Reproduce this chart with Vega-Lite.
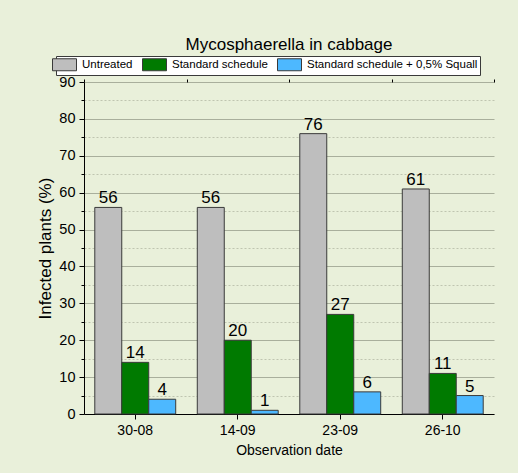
{
  "$schema": "https://vega.github.io/schema/vega-lite/v6.json",
  "width": 410,
  "height": 332,
  "autosize": "none",
  "padding": {"left": 84, "top": 82, "right": 24, "bottom": 59},
  "background": "#E9F0DA",
  "title": {
    "text": "Mycosphaerella in cabbage",
    "fontSize": 17,
    "font": "Liberation Sans",
    "fontWeight": "normal",
    "color": "#000000",
    "anchor": "middle",
    "offset": 2
  },
  "data": {
    "values": [
      {"date": "30-08", "series": "Untreated", "value": 56},
      {"date": "30-08", "series": "Standard schedule", "value": 14},
      {"date": "30-08", "series": "Standard schedule + 0,5% Squall", "value": 4},
      {"date": "14-09", "series": "Untreated", "value": 56},
      {"date": "14-09", "series": "Standard schedule", "value": 20},
      {"date": "14-09", "series": "Standard schedule + 0,5% Squall", "value": 1},
      {"date": "23-09", "series": "Untreated", "value": 76},
      {"date": "23-09", "series": "Standard schedule", "value": 27},
      {"date": "23-09", "series": "Standard schedule + 0,5% Squall", "value": 6},
      {"date": "26-10", "series": "Untreated", "value": 61},
      {"date": "26-10", "series": "Standard schedule", "value": 11},
      {"date": "26-10", "series": "Standard schedule + 0,5% Squall", "value": 5}
    ]
  },
  "layer": [
    {
      "mark": {"type": "bar", "stroke": "#3a3a3a", "strokeWidth": 1},
      "encoding": {
        "x": {
          "field": "date", "type": "nominal",
          "sort": ["30-08", "14-09", "23-09", "26-10"],
          "scale": {"paddingInner": 0, "paddingOuter": 0},
          "axis": {
            "title": "Observation date", "labelAngle": 0,
            "labelFontSize": 14, "titleFontSize": 14, "titleFontWeight": "normal",
            "labelFont": "Liberation Sans", "titleFont": "Liberation Sans",
            "labelColor": "#000", "titleColor": "#000",
            "domainColor": "#000", "tickColor": "#000", "tickSize": 5,
            "labelPadding": 4, "titlePadding": 6
          }
        },
        "xOffset": {
          "field": "series", "type": "nominal",
          "sort": ["Untreated", "Standard schedule", "Standard schedule + 0,5% Squall"],
          "scale": {"paddingInner": 0, "paddingOuter": 0.4}
        },
        "y": {
          "field": "value", "type": "quantitative",
          "scale": {"domain": [0, 90], "nice": false},
          "axis": {
            "title": "Infected plants (%)",
            "values": [0, 10, 20, 30, 40, 50, 60, 70, 80, 90],
            "labelFontSize": 14.5, "titleFontSize": 17, "titleFontWeight": "normal",
            "labelFont": "Liberation Sans", "titleFont": "Liberation Sans",
            "labelColor": "#000", "titleColor": "#000",
            "domainColor": "#000", "tickColor": "#000", "tickSize": 5,
            "labelPadding": 4, "titlePadding": 4,
            "grid": true, "gridColor": "#A9AF9C", "gridWidth": 1
          }
        },
        "color": {
          "field": "series", "type": "nominal",
          "sort": ["Untreated", "Standard schedule", "Standard schedule + 0,5% Squall"],
          "scale": {
            "domain": ["Untreated", "Standard schedule", "Standard schedule + 0,5% Squall"],
            "range": ["#BEBEBE", "#007A00", "#4DB8FF"]
          },
          "legend": {
            "title": null,
            "orient": "none",
            "legendX": -28,
            "legendY": -26,
            "direction": "horizontal",
            "fillColor": "#FFFFFF",
            "strokeColor": "#3a3a3a",
            "padding": 2,
            "symbolType": "M-2,-1H2V1H-2Z",
            "symbolSize": 144,
            "symbolStrokeColor": "#3a3a3a",
            "symbolStrokeWidth": 1,
            "symbolOpacity": 1,
            "labelFontSize": 11.5,
            "labelFont": "Liberation Sans",
            "labelColor": "#000",
            "labelOffset": 11,
            "columnPadding": 7,
            "labelLimit": 300
          }
        }
      }
    },
    {
      "mark": {"type": "text", "baseline": "alphabetic", "dy": -4, "fontSize": 17, "font": "Liberation Sans", "color": "#000"},
      "encoding": {
        "x": {
          "field": "date", "type": "nominal",
          "sort": ["30-08", "14-09", "23-09", "26-10"],
          "axis": {
            "title": null, "labels": false, "domain": false,
            "tickBand": "extent", "tickColor": "#000", "tickSize": 3
          }
        },
        "xOffset": {
          "field": "series", "type": "nominal",
          "sort": ["Untreated", "Standard schedule", "Standard schedule + 0,5% Squall"]
        },
        "y": {
          "field": "value", "type": "quantitative",
          "axis": {
            "orient": "left",
            "title": null, "labels": false, "domain": false,
            "values": [5, 15, 25, 35, 45, 55, 65, 75, 85],
            "tickColor": "#000", "tickSize": 3,
            "grid": true, "gridColor": "#BFC5B0", "gridDash": [2, 2], "gridWidth": 1
          }
        },
        "text": {"field": "value", "type": "quantitative"}
      }
    }
  ],
  "resolve": {"axis": {"x": "independent", "y": "independent"}},
  "config": {"view": {"stroke": null}}
}
